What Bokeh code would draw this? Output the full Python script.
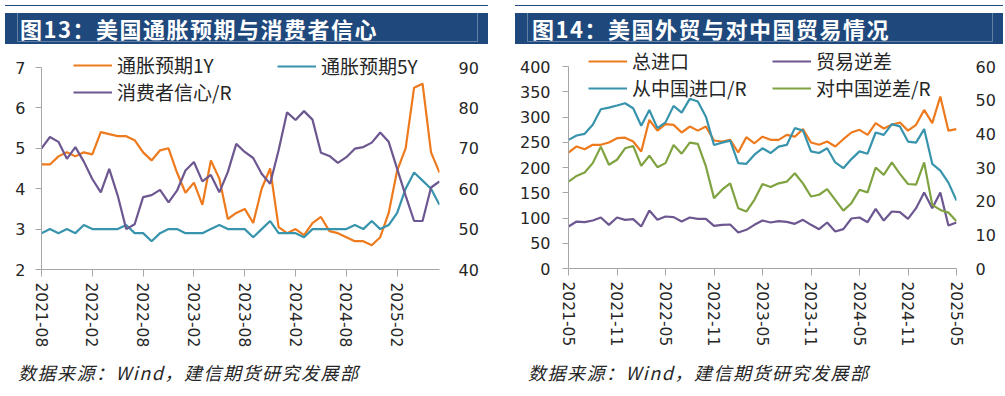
import pandas as pd
from bokeh.plotting import figure
from bokeh.models import Range1d, LinearAxis, FixedTicker, Legend, LegendItem, Div
from bokeh.layouts import row, column
from bokeh.embed import file_html
from bokeh.resources import INLINE

# ---------------- data: chart 13 (2021-08 .. 2025-07, monthly) ----------------
months_13 = pd.date_range("2021-08-01", periods=48, freq="MS").strftime("%Y-%m").tolist()
ticks_13 = ["2021-08", "2022-02", "2022-08", "2023-02", "2023-08", "2024-02", "2024-08", "2025-02"]
infl_1y = [4.6, 4.6, 4.8, 4.9, 4.8, 4.9, 4.85, 5.4, 5.35, 5.3, 5.3, 5.2,
           4.9, 4.7, 4.95, 5.0, 4.4, 3.9, 4.15, 3.6, 4.7, 4.25, 3.25, 3.4,
           3.5, 3.15, 4.0, 4.5, 3.05, 2.9, 3.0, 2.85, 3.15, 3.3, 2.95, 2.9,
           2.8, 2.7, 2.7, 2.6, 2.8, 3.4, 4.45, 5.0, 6.5, 6.6, 4.9, 4.4]
infl_5y = [2.9, 3.0, 2.9, 3.0, 2.9, 3.1, 3.0, 3.0, 3.0, 3.0, 3.1, 2.9,
           2.9, 2.7, 2.9, 3.0, 3.0, 2.9, 2.9, 2.9, 3.0, 3.1, 3.0, 3.0,
           3.0, 2.8, 3.0, 3.2, 2.9, 2.9, 2.9, 2.8, 3.0, 3.0, 3.0, 3.0,
           3.0, 3.1, 3.0, 3.2, 3.0, 3.1, 3.4, 4.0, 4.4, 4.2, 4.0, 3.6]
sentiment = [70.0, 72.8, 71.6, 67.4, 70.3, 66.7, 62.4, 59.1, 64.9, 58.3, 50.0, 51.2,
             57.9, 58.4, 59.7, 56.6, 59.5, 64.5, 66.6, 61.8, 63.4, 59.1, 64.1, 71.1,
             69.1, 67.6, 63.7, 61.2, 69.5, 78.9, 77.0, 79.2, 77.1, 68.9, 68.1, 66.4,
             67.8, 69.9, 70.3, 71.4, 73.9, 71.6, 64.9, 58.3, 52.0, 52.0, 60.3, 61.8]
left_ticks_13 = [2, 3, 4, 5, 6, 7]
right_ticks_13 = [40, 50, 60, 70, 80, 90]

# ---------------- data: chart 14 (2021-05 .. 2025-05, monthly) ----------------
months_14 = pd.date_range("2021-05-01", periods=49, freq="MS").strftime("%Y-%m").tolist()
ticks_14 = ["2021-05", "2021-11", "2022-05", "2022-11", "2023-05", "2023-11", "2024-05", "2024-11", "2025-05"]
total_imports = [229.7, 241.6, 236.0, 245.0, 245.0, 249.5, 258.0, 259.0, 251.5, 231.7, 294.4, 273.0,
                 285.8, 284.5, 269.3, 281.0, 273.0, 281.0, 253.5, 251.5, 254.8, 229.7, 260.0, 248.0,
                 261.0, 254.8, 254.8, 264.7, 261.0, 276.0, 249.5, 245.0, 251.5, 241.6, 256.0, 269.3,
                 274.6, 264.7, 287.8, 277.2, 284.5, 289.0, 273.0, 284.5, 314.0, 287.8, 340.6, 273.0, 276.0]
trade_deficit = [83.2, 93.0, 91.7, 95.0, 101.0, 86.5, 101.0, 96.4, 97.7, 83.2, 114.9, 96.4,
                 103.0, 101.7, 93.0, 101.0, 98.3, 98.3, 84.5, 86.5, 87.1, 71.3, 76.6, 86.5,
                 95.0, 91.1, 93.7, 92.4, 88.4, 96.4, 86.5, 77.9, 91.1, 73.3, 77.9, 99.0,
                 101.0, 91.7, 118.2, 95.0, 112.9, 111.6, 98.3, 119.5, 150.5, 119.5, 150.5, 85.1, 91.1]
china_imports = [38.2, 39.5, 40.0, 42.7, 47.3, 47.8, 48.4, 49.1, 47.6, 42.4, 47.1, 41.7,
                 43.4, 48.3, 46.3, 50.4, 49.6, 45.1, 36.7, 37.4, 38.0, 31.3, 31.1, 33.8,
                 35.7, 34.3, 36.2, 36.7, 41.7, 41.0, 34.8, 34.3, 35.7, 31.5, 29.8, 32.5,
                 34.8, 34.1, 40.4, 39.7, 42.9, 42.2, 37.7, 37.4, 41.4, 31.1, 29.1, 25.5, 20.2]
china_deficit = [25.8, 27.5, 28.5, 31.3, 36.2, 30.8, 32.3, 35.7, 36.4, 30.5, 33.5, 30.1,
                 31.3, 36.7, 34.1, 37.4, 37.0, 30.3, 20.9, 23.4, 25.3, 17.9, 16.9, 20.4,
                 25.1, 24.2, 25.3, 25.8, 28.3, 25.3, 21.4, 21.9, 23.6, 20.4, 17.2, 19.4,
                 23.4, 22.6, 30.0, 27.8, 31.5, 28.1, 25.1, 24.9, 31.5, 18.9, 17.4, 16.6, 14.0]
left_ticks_14 = [0, 50, 100, 150, 200, 250, 300, 350, 400]
right_ticks_14 = [0, 10, 20, 30, 40, 50, 60]

TITLE_13 = "图13：美国通胀预期与消费者信心"
TITLE_14 = "图14：美国外贸与对中国贸易情况"
SOURCE = "数据来源：Wind，建信期货研究发展部"

ORANGE = "#EE7A1E"
TEAL = "#3794AC"
PURPLE = "#6C5790"
GREEN = "#7FA340"
NAVY = "#1F497D"
AXIS_GRAY = "#A6A6A6"
TEXT = "#262626"
CJK = "Noto Sans CJK SC"
NUM = "DejaVu Sans"

DATA_H = 202  # pixel height of the data span (bottom tick to top tick)


def title_div(text, w, bar_left, bar_w, text_left):
    html = (
        f'<div style="position:relative;width:{w}px;height:44px;overflow:hidden;background:#ffffff;">'
        f'<div style="position:absolute;left:{bar_left}px;top:5px;width:{bar_w}px;height:1px;background:{NAVY};"></div>'
        f'<div style="position:absolute;left:{bar_left}px;top:13px;width:{bar_w}px;height:31px;background:{NAVY};"></div>'
        f'<div style="position:absolute;left:{bar_left + 12}px;top:12px;width:{bar_w - 22}px;height:30px;'
        f'border:1px solid rgba(255,255,255,0.30);"></div>'
        f'<div style="position:absolute;left:{text_left}px;top:13px;height:31px;line-height:31px;color:#ffffff;'
        f"font-family:'{CJK}';font-weight:bold;font-size:22px;letter-spacing:1.5px;white-space:nowrap;\">{text}</div>"
        '</div>'
    )
    return Div(text=html, width=w, height=44, margin=0)


def source_div(w, text_left):
    html = (
        f'<div style="position:relative;width:{w}px;height:37px;overflow:hidden;background:#ffffff;">'
        f'<div style="position:absolute;left:{text_left}px;top:5px;line-height:24px;color:{TEXT};'
        f"font-family:'{CJK}';font-style:italic;font-size:18px;letter-spacing:1.5px;white-space:nowrap;\">{SOURCE}</div>"
        '</div>'
    )
    return Div(text=html, width=w, height=37, margin=0)


def base_fig(width, height, months, ticks, left_ticks, yr, extra_px, border):
    n = len(months)
    y_end = yr[1] + (yr[1] - yr[0]) * extra_px / DATA_H
    p = figure(width=width, height=height, output_backend="svg", toolbar_location=None,
               x_range=Range1d(0, n - 1), y_range=Range1d(yr[0], y_end),
               min_border_left=border[0], min_border_right=border[1],
               min_border_top=border[2], min_border_bottom=border[3], margin=0)
    p.outline_line_color = None
    p.grid.visible = False
    p.background_fill_color = "white"
    p.border_fill_color = "white"
    tick_idx = [months.index(t) for t in ticks]
    xa = p.xaxis[0]
    xa.ticker = FixedTicker(ticks=tick_idx)
    xa.major_label_overrides = {i: months[i] for i in tick_idx}
    xa.major_label_orientation = "vertical"
    xa.axis_line_color = AXIS_GRAY
    xa.major_tick_line_color = AXIS_GRAY
    xa.major_tick_out = 7
    xa.major_tick_in = 0
    xa.minor_tick_line_color = None
    xa.major_label_standoff = 6
    xa.major_label_text_font = NUM
    xa.major_label_text_font_size = "15.5px"
    xa.major_label_text_color = TEXT
    ya = p.yaxis[0]
    ya.ticker = FixedTicker(ticks=left_ticks)
    ya.bounds = (yr[0], yr[1])
    ya.axis_line_color = AXIS_GRAY
    ya.major_tick_line_color = AXIS_GRAY
    ya.major_tick_out = 6
    ya.major_tick_in = 0
    ya.minor_tick_line_color = None
    ya.major_label_text_font = NUM
    ya.major_label_text_font_size = "16px"
    ya.major_label_text_color = TEXT
    return p


def add_right_axis(p, rng, extra_px, ticks, standoff):
    r_end = rng[1] + (rng[1] - rng[0]) * extra_px / DATA_H
    p.extra_y_ranges = {"r": Range1d(rng[0], r_end)}
    ax = LinearAxis(y_range_name="r", ticker=FixedTicker(ticks=ticks))
    ax.axis_line_color = None
    ax.major_tick_line_color = None
    ax.minor_tick_line_color = None
    ax.major_tick_out = 0
    ax.major_tick_in = 0
    ax.major_label_standoff = standoff
    ax.major_label_text_font = NUM
    ax.major_label_text_font_size = "16px"
    ax.major_label_text_color = TEXT
    p.add_layout(ax, "right")


def make_legend(items, loc):
    lg = Legend(items=items, location=loc, orientation="vertical")
    lg.label_text_font = CJK
    lg.label_text_font_size = "19px"
    lg.label_text_color = TEXT
    lg.glyph_width = 39
    lg.glyph_height = 26
    lg.label_height = 26
    lg.label_standoff = 5
    lg.spacing = 0
    lg.padding = 0
    lg.margin = 0
    lg.background_fill_alpha = 0
    lg.border_line_alpha = 0
    return lg


# ---------------- chart 13 ----------------
EXTRA_13 = 17
x13 = list(range(len(months_13)))
p1 = base_fig(505, 311, months_13, ticks_13, left_ticks_13, (2, 7), EXTRA_13, (41, 66, 6, 86))
add_right_axis(p1, (40, 90), EXTRA_13, right_ticks_13, 19)
p1.yaxis[0].major_label_standoff = 10
r_1y = p1.line(x13, infl_1y, line_color=ORANGE, line_width=2.2)
r_5y = p1.line(x13, infl_5y, line_color=TEAL, line_width=2.2)
r_cs = p1.line(x13, sentiment, line_color=PURPLE, line_width=2.2, y_range_name="r")
p1.add_layout(make_legend([LegendItem(label="通胀预期1Y", renderers=[r_1y]),
                           LegendItem(label="消费者信心/R", renderers=[r_cs])], (32, 164)))
p1.add_layout(make_legend([LegendItem(label="通胀预期5Y", renderers=[r_5y])], (236, 190)))

# ---------------- chart 14 ----------------
EXTRA_14 = 20
x14 = list(range(len(months_14)))
p2 = base_fig(498, 311, months_14, ticks_14, left_ticks_14, (0, 400), EXTRA_14, (63, 47, 2, 87))
add_right_axis(p2, (0, 60), EXTRA_14, right_ticks_14, 19)
p2.yaxis[0].major_label_standoff = 12
r_ti = p2.line(x14, total_imports, line_color=ORANGE, line_width=2.2)
r_td = p2.line(x14, trade_deficit, line_color=PURPLE, line_width=2.2)
r_ci = p2.line(x14, china_imports, line_color=TEAL, line_width=2.2, y_range_name="r")
r_cd = p2.line(x14, china_deficit, line_color=GREEN, line_width=2.2, y_range_name="r")
p2.add_layout(make_legend([LegendItem(label="总进口", renderers=[r_ti]),
                           LegendItem(label="从中国进口/R", renderers=[r_ci])], (20, 167)))
p2.add_layout(make_legend([LegendItem(label="贸易逆差", renderers=[r_td]),
                           LegendItem(label="对中国逆差/R", renderers=[r_cd])], (204, 167)))

left = column(title_div(TITLE_13, 505, 5, 483, 20), p1, source_div(505, 18), spacing=0)
right = column(title_div(TITLE_14, 498, 10, 488, 27), p2, source_div(498, 23), spacing=0)
layout = row(left, right, spacing=0)

open("out.html", "w").write(file_html(layout, INLINE))
